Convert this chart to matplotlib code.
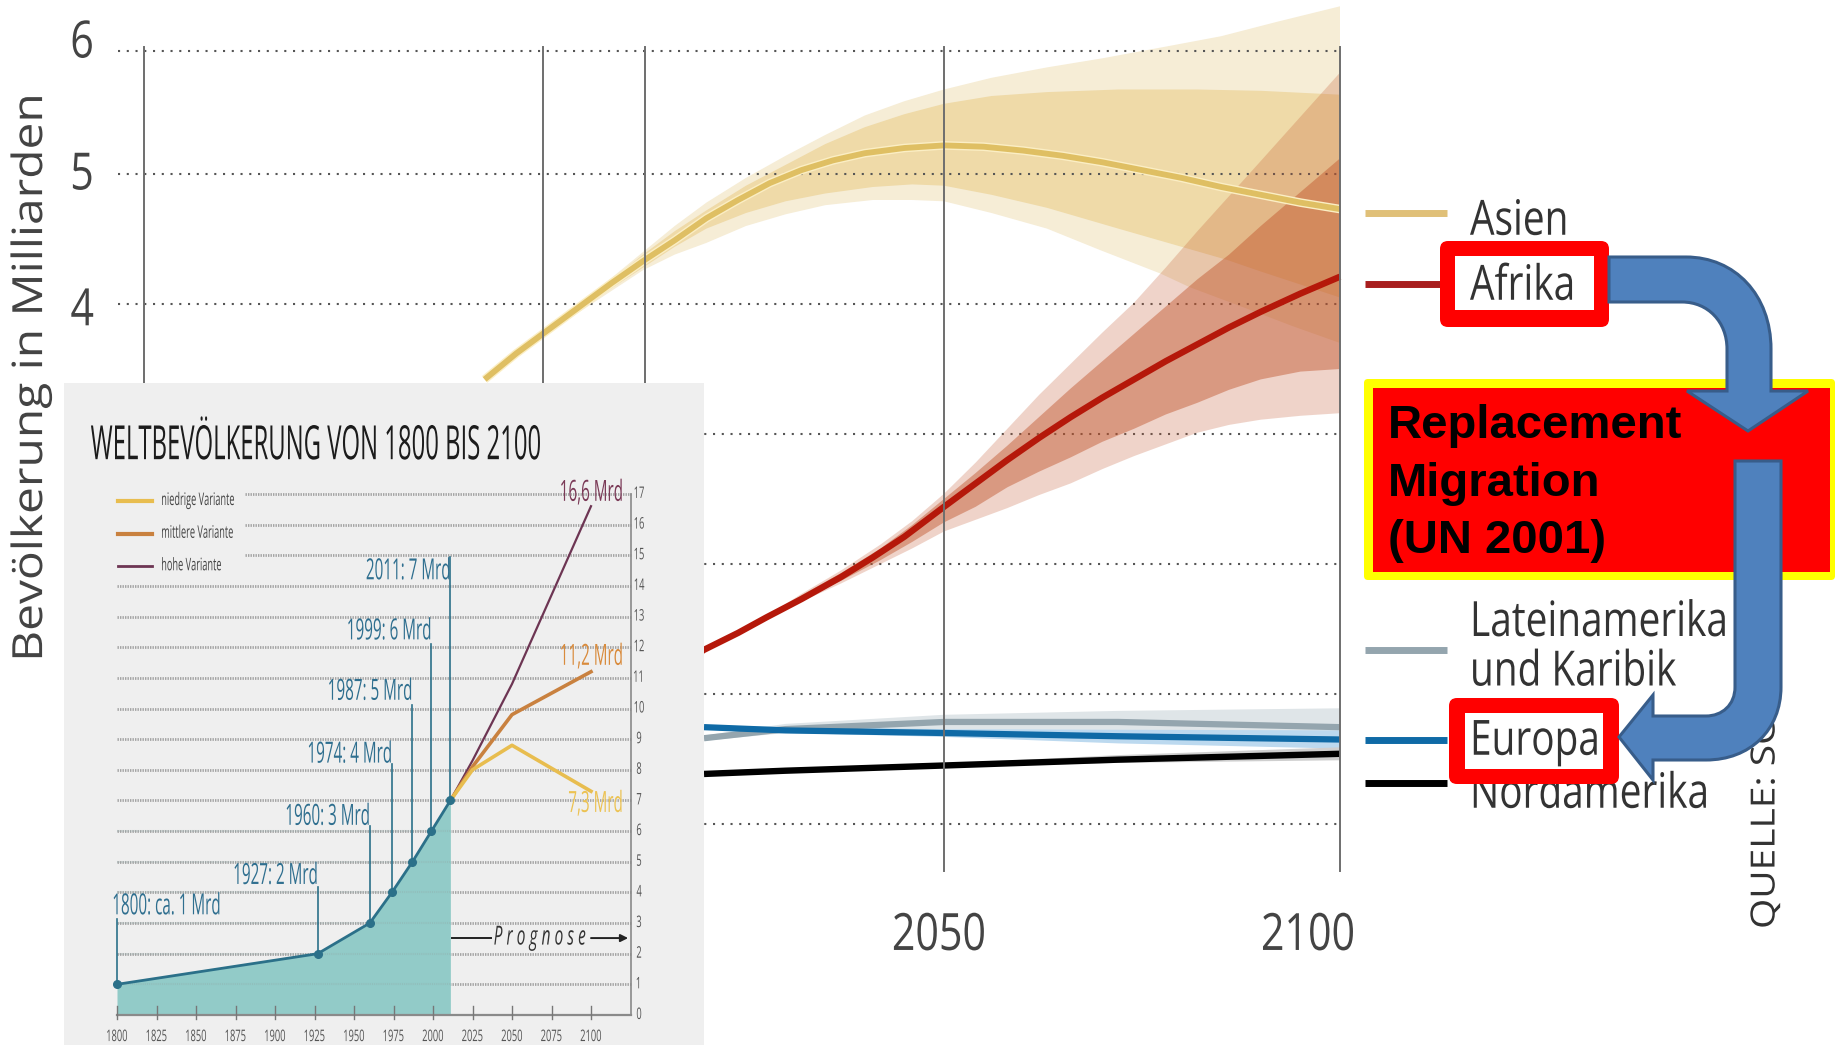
import matplotlib
matplotlib.use("Agg")
import matplotlib.pyplot as plt
from matplotlib.font_manager import FontProperties
from matplotlib.patches import FancyBboxPatch, PathPatch, Rectangle
from matplotlib.patheffects import AbstractPathEffect
from matplotlib.path import Path
from matplotlib.text import TextPath
from matplotlib.transforms import Affine2D

SANS = "Open Sans"

# ---- main chart data (billions) ----
grid_levels = [0, 1, 2, 3, 4, 5, 5.95]
vline_years = [1949, 1999.4, 2012.3, 2050, 2100]

asia_years = [1992, 1996, 2000, 2004, 2008, 2012, 2016, 2020, 2024, 2028, 2032, 2036, 2040, 2045, 2050,
              2055, 2060, 2065, 2070, 2075, 2080, 2085, 2090, 2095, 2100]
asia_mid = [3.42, 3.62, 3.80, 3.98, 4.16, 4.33, 4.49, 4.66, 4.80, 4.93, 5.03, 5.105, 5.16, 5.20, 5.22,
            5.21, 5.18, 5.14, 5.09, 5.03, 4.97, 4.90, 4.84, 4.78, 4.73]

asia_up_o_y = [2000, 2006, 2012, 2016, 2020, 2025, 2030, 2035, 2040, 2045, 2050, 2056, 2063, 2070, 2078, 2085, 2092, 2100]
asia_up_o = [3.82, 4.10, 4.40, 4.60, 4.78, 4.97, 5.14, 5.30, 5.45, 5.56, 5.65, 5.74, 5.82, 5.89, 5.98, 6.06, 6.17, 6.29]
asia_lo_o_y = [2000, 2006, 2012, 2016, 2020, 2025, 2030, 2035, 2041, 2046, 2050, 2056, 2063, 2069.7, 2077.3, 2081, 2088, 2094, 2100]
asia_lo_o = [3.78, 4.02, 4.26, 4.38, 4.47, 4.60, 4.69, 4.76, 4.80, 4.80, 4.79, 4.70, 4.58, 4.415, 4.235, 4.13, 3.97, 3.83, 3.70]
asia_up_i_y = [2000, 2006, 2012, 2016, 2020, 2025, 2030, 2035, 2040, 2045, 2050, 2056, 2063, 2072, 2082, 2090, 2100]
asia_up_i = [3.81, 4.09, 4.38, 4.56, 4.72, 4.91, 5.07, 5.23, 5.36, 5.46, 5.54, 5.60, 5.63, 5.65, 5.65, 5.64, 5.61]
asia_lo_i_y = [2000, 2006, 2012, 2016, 2020, 2025, 2030, 2035, 2041, 2046, 2050, 2056, 2063, 2072, 2080, 2085.7, 2090, 2095, 2100]
asia_lo_i = [3.79, 4.04, 4.28, 4.44, 4.58, 4.70, 4.79, 4.85, 4.90, 4.92, 4.91, 4.84, 4.74, 4.58, 4.44, 4.34, 4.25, 4.15, 4.05]

africa_years = [2015, 2019.7, 2024, 2027.6, 2032, 2037, 2041, 2045, 2050, 2054, 2058, 2062, 2066, 2070, 2074,
                2078, 2082, 2086, 2090, 2095, 2100]
africa_mid = [1.15, 1.34, 1.47, 1.59, 1.73, 1.90, 2.05, 2.21, 2.44, 2.62, 2.80, 2.97, 3.13, 3.28, 3.42,
              3.56, 3.69, 3.82, 3.94, 4.08, 4.21]
afr_band_years = [2027.6, 2032, 2037, 2042, 2046, 2050, 2054, 2058, 2062, 2066, 2070, 2074, 2078, 2082, 2086, 2090, 2095, 2100]
afr_up_o = [1.60, 1.77, 1.95, 2.15, 2.33, 2.54, 2.78, 3.04, 3.30, 3.54, 3.78, 4.01, 4.28, 4.56, 4.83, 5.10, 5.44, 5.78]
afr_up_i = [1.60, 1.76, 1.93, 2.12, 2.30, 2.50, 2.70, 2.91, 3.13, 3.35, 3.56, 3.77, 3.98, 4.19, 4.38, 4.60, 4.86, 5.12]
afr_lo_i = [1.58, 1.72, 1.87, 2.03, 2.17, 2.32, 2.44, 2.59, 2.71, 2.82, 2.94, 3.04, 3.15, 3.24, 3.34, 3.42, 3.48, 3.50]
afr_lo_o = [1.58, 1.71, 1.85, 2.00, 2.12, 2.25, 2.34, 2.43, 2.53, 2.62, 2.73, 2.83, 2.92, 3.01, 3.07, 3.11, 3.14, 3.16]

low_years = [2019.7, 2030, 2050, 2072, 2100]
latam_mid = [0.66, 0.73, 0.785, 0.785, 0.745]
latam_up = [0.68, 0.77, 0.84, 0.87, 0.89]
latam_lo = [0.64, 0.70, 0.72, 0.70, 0.685]
europe_mid = [0.745, 0.72, 0.70, 0.675, 0.65]
europe_up = [0.76, 0.745, 0.73, 0.725, 0.72]
europe_lo = [0.73, 0.70, 0.67, 0.62, 0.58]
namer_mid = [0.385, 0.41, 0.45, 0.495, 0.54]
namer_up = [0.39, 0.42, 0.465, 0.53, 0.59]
namer_lo = [0.38, 0.40, 0.44, 0.47, 0.49]

legend_names = ["Asien", "Afrika", "Lateinamerika\nund Karibik", "Europa", "Nordamerika"]

# ---- inset data ----
hist_years = [1800, 1927, 1960, 1974, 1987, 1999, 2011]
hist_pop = [1, 2, 3, 4, 5, 6, 7]
hist_labels = ["1800: ca. 1 Mrd", "1927: 2 Mrd", "1960: 3 Mrd", "1974: 4 Mrd", "1987: 5 Mrd", "1999: 6 Mrd", "2011: 7 Mrd"]
stem_top = [3.13, 4.17, 6.17, 8.18, 10.1, 12.1, 14.95]
label_y = [3.53, 4.52, 6.45, 8.48, 10.53, 12.5, 14.46]
var_years = [2011, 2025, 2050, 2100]
var_low = [7, 8.0, 8.8, 7.3]
var_mid = [7, 8.1, 9.8, 11.2]
var_high = [7, 8.3, 10.8, 16.6]
inset_xticks = list(range(1800, 2101, 25))
inset_yticks = list(range(0, 18))

plt.rcParams["font.family"] = [SANS, "DejaVu Sans"]
fig = plt.figure(figsize=(18.35, 10.45), dpi=100, facecolor="white")


class Squeeze(AbstractPathEffect):
    """Narrow a text's glyphs along its baseline (the source picture is squeezed sideways)."""

    def __init__(self, sx, align="left"):
        super().__init__()
        self.sx = sx
        self.frac = {"left": 0.0, "center": 0.5, "right": 1.0}[align]

    def draw_path(self, renderer, gc, tpath, affine, rgbFace=None):
        m = affine.get_matrix().copy()
        shift = (1 - self.sx) * tpath.get_extents().x1 * self.frac
        m[0, 2] += m[0, 0] * shift
        m[1, 2] += m[1, 0] * shift
        m[0, 0] *= self.sx
        m[1, 0] *= self.sx
        renderer.draw_path(gc, tpath, Affine2D(m), rgbFace)


def fit(s, pt, target_px, **fp):
    prop = FontProperties(family=SANS, **fp)
    return target_px / TextPath((0, 0), s, size=pt * 100 / 72, prop=prop).get_extents().width


def T(a, x, y, s, pt, sx, ha="left", align=None, **kw):
    kw.setdefault("va", "center")
    return a.text(x, y, s, fontsize=pt, ha=ha, path_effects=[Squeeze(sx, align or ha)], **kw)


SX_MAIN = fit("2050", 37, 90)
SX_LEG = fit("Lateinamerika", 35, 251)
SX_YLAB = fit("Bevölkerung in Milliarden", 30, 560)
SX_TITLE = fit("WELTBEVÖLKERUNG VON 1800 BIS 2100", 34, 449)
SX_MRD = fit("1927: 2 Mrd", 21, 82)
SX_TICK = fit("1800", 11.5, 20)
SX_ILEG = fit("niedrige Variante", 12.5, 72)
SX_PROG = fit("P r o g n o s e", 19, 91, style="italic")
SX_SRC = fit("QUELLE: SC", 24, 205)


def band(ax, xu, up, xl, lo, **kw):
    ax.fill(list(xu) + list(xl)[::-1], list(up) + list(lo)[::-1], lw=0, **kw)


# ---------- main axes ----------
ax = fig.add_axes([0, 0, 1, 1], zorder=1)
ax.set_xlim(2050 - 944 / 7.92, 2050 + 891 / 7.92)
ax.set_ylim(-221 / 130, 824 / 130)
ax.axis("off")

band(ax, asia_up_o_y, asia_up_o, asia_lo_o_y, asia_lo_o, color="#f6edd6", zorder=1)
band(ax, asia_up_i_y, asia_up_i, asia_lo_i_y, asia_lo_i, color="#efdaa8", zorder=1.5)
band(ax, low_years, latam_up, low_years, latam_lo, color="#dfe5e8", zorder=1.6)
band(ax, low_years, europe_up, low_years, europe_lo, color="#bcd9ef", zorder=1.7)
band(ax, low_years, namer_up, low_years, namer_lo, color="#cfcfcf", zorder=1.7)

for lv in grid_levels:
    ax.plot([1945.7, 2100], [lv, lv], color="#555555", lw=1.5, ls=(0, (1, 3.2)), zorder=2)

band(ax, afr_band_years, afr_up_o, afr_band_years, afr_lo_o, color="#c0532a", alpha=0.25, zorder=3)
band(ax, afr_band_years, afr_up_i, afr_band_years, afr_lo_i, color="#c0532a", alpha=0.45, zorder=3.1)

ax.plot(asia_years, asia_mid, color="#fbeec4", lw=6.2, zorder=4, solid_capstyle="butt")
ax.plot(asia_years, asia_mid, color="#dfbf63", lw=4.2, zorder=4.1, solid_capstyle="butt")
ax.plot(africa_years, africa_mid, color="#b5180a", lw=4.6, zorder=4.1, solid_capstyle="butt")
ax.plot(low_years, latam_mid, color="#94a5ae", lw=4.5, zorder=4, solid_capstyle="butt")
ax.plot(low_years, europe_mid, color="#0f6aa6", lw=4.5, zorder=4.1, solid_capstyle="butt")
ax.plot(low_years, namer_mid, color="#000000", lw=4.6, zorder=4.2, solid_capstyle="butt")

for yr in vline_years:
    ax.plot([yr, yr], [-0.36, 5.98], color="#6e6e6e", lw=1.4, zorder=5)

for val, yp in zip(["6", "5", "4"], [6.0, 4.985, 3.94]):
    T(ax, 1941.2, yp, val, 37, SX_MAIN, ha="center", color="#444444")
T(ax, 2049.4, -0.865, "2050", 37, SX_MAIN, ha="center", color="#444444")
T(ax, 2096, -0.865, "2100", 37, SX_MAIN, ha="center", color="#444444")
T(ax, 1934.7, 3.43, "Bevölkerung in Milliarden", 30, SX_YLAB, ha="center", rotation=90, color="#444444")

# ---------- inset ----------
ins = fig.add_axes([64 / 1835, 0, 640 / 1835, 662 / 1045], zorder=2)
ins.set_xlim(1800 + (64 - 117) / 1.58, 1800 + (704 - 117) / 1.58)
ins.set_ylim(-30 / 30.65, 632 / 30.65)
ins.set_facecolor("#efefef")
for s in ins.spines.values():
    s.set_visible(False)
ins.set_xticks([])
ins.set_yticks([])

for v in inset_yticks[1:]:
    start = 1800 if v < 15 else 1881
    ins.plot([start, 2125], [v, v], color="#a4a4a4", lw=2.0, ls=(0, (0.5, 0.4)), zorder=1)
ins.fill_between(hist_years, hist_pop, 0, color="#92cbc8", lw=0, zorder=2)
for v in [1, 2, 3, 4, 5, 6]:
    ins.plot([1800, 2011], [v, v], color="#8fa9a8", lw=1.5, ls=(0, (0.5, 0.4)), zorder=2.1, alpha=0.35)
ins.plot([1800, 2125], [0, 0], color="#8a8a8a", lw=1.6, zorder=3)
ins.plot([2125, 2125], [0, 17], color="#8a8a8a", lw=1.2, zorder=3)
for yr in inset_xticks:
    ins.plot([yr, yr], [-0.12, 0.28], color="#777777", lw=1.0, zorder=3)
    T(ins, yr, -0.72, str(yr), 11.5, SX_TICK, ha="center", color="#555555")
for v in inset_yticks:
    T(ins, 2130.5, v, str(v), 11.5, SX_TICK, ha="center", color="#555555")

ins.plot(var_years, var_high, color="#6d3553", lw=1.6, zorder=4)
ins.plot(var_years, var_mid, color="#c9813f", lw=2.6, zorder=4.1)
ins.plot(var_years, var_low, color="#e8bd4f", lw=2.6, zorder=4.2)

ins.plot(hist_years, hist_pop, color="#2b7089", lw=2.0, zorder=5)
ins.plot(hist_years, hist_pop, "o", color="#2b7089", ms=5.5, zorder=5.1)
for yr, p, top, yl, lab in zip(hist_years, hist_pop, stem_top, label_y, hist_labels):
    ins.plot([yr, yr], [p, top], color="#2b7089", lw=1.2, zorder=5)
    if yr == 1800:
        T(ins, yr - 3, yl, lab, 21, SX_MRD, ha="left", color="#2f6f8f", zorder=6)
    else:
        T(ins, yr + 1, yl, lab, 21, SX_MRD, ha="right", color="#2f6f8f", zorder=6)

T(ins, 2121, 17.02, "16,6 Mrd", 21, SX_MRD, ha="right", color="#7b3a57", zorder=6)
T(ins, 2121, 11.67, "11,2 Mrd", 21, SX_MRD, ha="right", color="#d98b3c", zorder=6)
T(ins, 2121, 6.87, "7,3 Mrd", 21, SX_MRD, ha="right", color="#ecc252", zorder=6)

T(ins, 1783.3, 18.55, "WELTBEVÖLKERUNG VON 1800 BIS 2100", 34, SX_TITLE, color="#1c1c1c", zorder=6)

for name, col, yp, lw in zip(["niedrige Variante", "mittlere Variante", "hohe Variante"],
                             ["#e8bd4f", "#c9813f", "#6d3553"], [16.77, 15.7, 14.64], [3, 3, 2]):
    ins.plot([1800.6, 1822], [yp, yp], color=col, lw=lw, zorder=6)
    T(ins, 1828, yp, name, 12.5, SX_ILEG, color="#444444", zorder=6)

ins.plot([2012, 2036.8], [2.51, 2.51], color="#222222", lw=1.4, zorder=6)
T(ins, 2067.7, 2.51, "P r o g n o s e", 19, SX_PROG, ha="center", style="italic", color="#333333", zorder=6)
ins.annotate("", xy=(2123.5, 2.51), xytext=(2100, 2.51),
             arrowprops=dict(arrowstyle="-|>", color="#222222", lw=1.4, mutation_scale=11, shrinkA=0, shrinkB=0),
             zorder=6)

# ---------- overlay in pixel space: legend and slide annotations ----------
ov = fig.add_axes([0, 0, 1, 1], zorder=3)
ov.set_xlim(0, 1835)
ov.set_ylim(1045, 0)
ov.axis("off")
ov.patch.set_alpha(0)

legend_cols = ["#e0c078", "#a81e1e", "#94a5ae", "#0f6aa6", "#000000"]
legend_line_y = [213, 283.5, 650, 740, 783]
legend_text_y = [222, 287, 648, 742, 795]
for name, c, ly, ty in zip(legend_names, legend_cols, legend_line_y, legend_text_y):
    ov.plot([1365, 1447], [ly, ly], color=c, lw=5, solid_capstyle="butt", zorder=1)
    T(ov, 1470, ty, name, 35, SX_LEG, color="#333333", linespacing=1.0, zorder=1)
T(ov, 1766, 929, "QUELLE: SC", 24, SX_SRC, ha="center", align="left", va="bottom", rotation=90,
  color="#333333", zorder=1)


def rbox(x0, y0, x1, y1, color, z, r=8):
    ov.add_patch(FancyBboxPatch((x0 + r, y0 + r), x1 - x0 - 2 * r, y1 - y0 - 2 * r,
                                boxstyle=f"round,pad={r},rounding_size={r}", fc=color, ec="none", zorder=z))


rbox(1364, 379, 1835, 580, "#ffff00", 2, r=4)
ov.add_patch(Rectangle((1373, 388), 457, 184, fc="#ff0000", ec="none", zorder=2.1))
for txt, yp in zip(["Replacement", "Migration", "(UN 2001)"], [426, 484, 541]):
    ov.text(1388, yp, txt, family="Liberation Sans", weight="bold", fontsize=34, color="black",
            ha="left", va="center", zorder=2.2)

rbox(1440, 241, 1609, 327, "#ff0000", 2.5)
ov.add_patch(Rectangle((1455, 256), 139, 54, fc="white", ec="none", zorder=2.6))
T(ov, 1470, 287, "Afrika", 35, SX_LEG, color="#333333", zorder=2.7)

rbox(1449, 698, 1619, 784, "#ff0000", 2.5)
ov.add_patch(Rectangle((1465, 713), 138, 56, fc="white", ec="none", zorder=2.6))
T(ov, 1470, 742, "Europa", 35, SX_LEG, color="#333333", zorder=2.7)

M, L, C, Z = Path.MOVETO, Path.LINETO, Path.CURVE4, Path.CLOSEPOLY
arrow1 = Path([(1609, 257), (1686, 257), (1735, 257), (1771, 295), (1771, 349), (1771, 391), (1808, 391),
               (1748, 431), (1687, 391), (1727, 391), (1727, 349), (1727, 322), (1708, 302), (1682, 302),
               (1609, 302), (1609, 257)],
              [M, L, C, C, C, L, L, L, L, L, L, C, C, C, L, Z])
arrow2 = Path([(1735, 461), (1781, 461), (1781, 687), (1781, 730), (1750, 760), (1706, 760), (1653, 760),
               (1653, 780), (1619, 737), (1653, 695), (1653, 716), (1706, 716), (1722, 716), (1735, 705),
               (1735, 687), (1735, 461)],
              [M, L, L, C, C, C, L, L, L, L, L, L, C, C, C, Z])
for p in (arrow1, arrow2):
    ov.add_patch(PathPatch(p, fc="#4f81bd", ec="#385d8a", lw=2.2, zorder=3, joinstyle="miter"))

fig.savefig("out.png", dpi=100)
